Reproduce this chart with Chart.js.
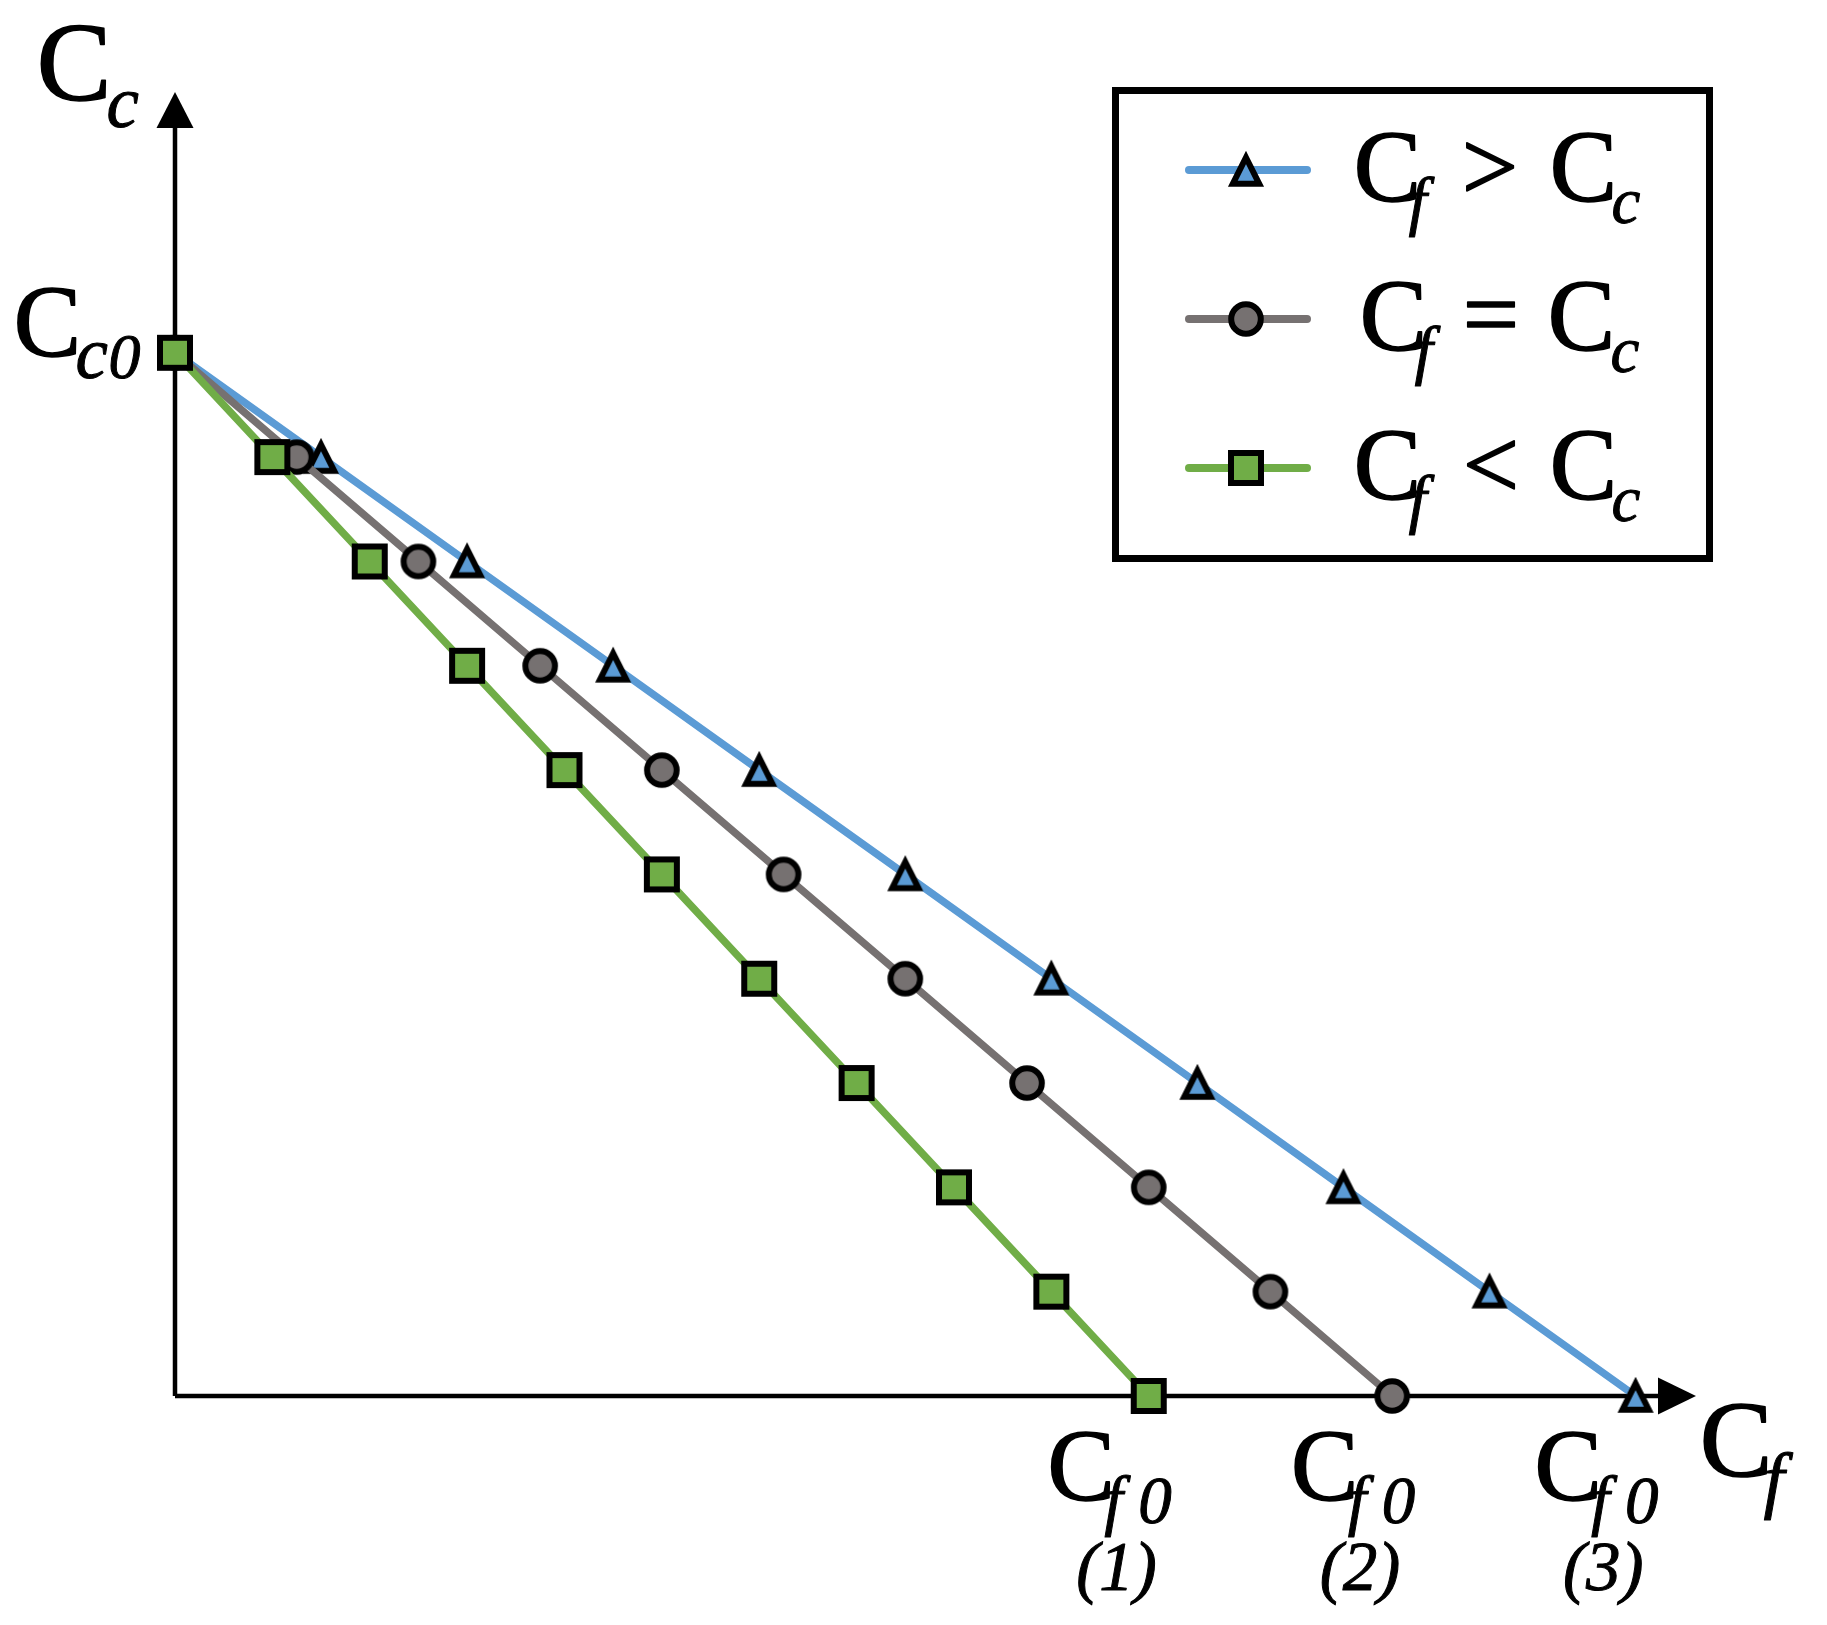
<!DOCTYPE html>
<html>
<head>
<meta charset="utf-8">
<script src="https://cdn.jsdelivr.net/npm/chart.js@4.4.1/dist/chart.umd.min.js"></script>
<style>
  html, body { margin: 0; padding: 0; background: #fff; }
  #wrap { width: 1827px; height: 1625px; }
</style>
</head>
<body>
<div id="wrap"><canvas id="concChart" width="1827" height="1625"></canvas></div>
<script>
// Cc falls from Cc0 to 0 while Cf climbs to its end value Cf0
const ccValues = [10, 9, 8, 7, 6, 5, 4, 3, 2, 1, 0];
const cfLess = [0, 1, 2, 3, 4, 5, 6, 7, 8, 9, 10];                        // Cf < Cc
const cfEqual = [0, 1.25, 2.5, 3.75, 5, 6.25, 7.5, 8.75, 10, 11.25, 12.5]; // Cf = Cc
const cfGreater = [0, 1.5, 3, 4.5, 6, 7.5, 9, 10.5, 12, 13.5, 15];        // Cf > Cc
const legendOps = ['>', '=', '<'];
const endTags = ['(1)', '(2)', '(3)'];
const xMax = 15.6;
const yMax = 12.5;

const SERIF = '"Liberation Serif", "Times New Roman", serif';
const BLUE = '#5B9BD5';
const GRAY = '#767171';
const GREEN = '#70AD47';

function toPoints(xs) {
    return xs.map((x, i) => ({ x: x, y: ccValues[i] }));
}

// marker images, so chart and legend use the very same symbol
function makeMarker(shape, fill) {
    const c = document.createElement('canvas');
    c.width = 48;
    c.height = 48;
    const g = c.getContext('2d');
    g.translate(24, 24);
    g.lineWidth = 6;
    g.strokeStyle = '#000';
    g.fillStyle = fill;
    g.lineJoin = 'miter';
    g.beginPath();
    if (shape === 'circle') {
        g.arc(0, 0, 14.8, 0, Math.PI * 2);
    } else if (shape === 'rect') {
        g.rect(-15, -15, 30, 30);
    } else {
        g.moveTo(0, -12.5);
        g.lineTo(13.2, 13.8);
        g.lineTo(-13.2, 13.8);
        g.closePath();
    }
    g.fill();
    g.stroke();
    return c;
}

const triMarker = makeMarker('triangle', BLUE);
const dotMarker = makeMarker('circle', GRAY);
const boxMarker = makeMarker('rect', GREEN);

// draw a glyph run with its ink box starting at (left, bottom);
// a thin outline gives the slightly heavier look of the original
function put(ctx, text, left, bottom, size, style) {
    const ink = style === 'italic' ? 1 : 1.6;
    ctx.font = style + ' ' + size + 'px ' + SERIF;
    const m = ctx.measureText(text);
    const x = left + m.actualBoundingBoxLeft + ink / 2;
    const y = bottom - m.actualBoundingBoxDescent - ink / 2;
    ctx.lineWidth = ink;
    ctx.lineJoin = 'round';
    ctx.strokeStyle = '#000';
    ctx.fillText(text, x, y);
    ctx.strokeText(text, x, y);
}

const axesPlugin = {
    id: 'arrowAxes',
    beforeDatasetsDraw(chart) {
        const ctx = chart.ctx;
        const x0 = chart.scales.x.getPixelForValue(0);
        const y0 = chart.scales.y.getPixelForValue(0);
        const top = chart.chartArea.top;
        const right = chart.chartArea.right;
        ctx.save();
        ctx.strokeStyle = '#000';
        ctx.fillStyle = '#000';
        ctx.lineWidth = 4.5;
        ctx.beginPath();
        ctx.moveTo(x0, y0);
        ctx.lineTo(x0, top + 36);
        ctx.moveTo(x0, y0);
        ctx.lineTo(right - 36, y0);
        ctx.stroke();
        // arrow heads
        ctx.beginPath();
        ctx.moveTo(x0, top);
        ctx.lineTo(x0 + 18.5, top + 36);
        ctx.lineTo(x0 - 18.5, top + 36);
        ctx.closePath();
        ctx.fill();
        ctx.beginPath();
        ctx.moveTo(right + 2, y0);
        ctx.lineTo(right - 36, y0 - 18.5);
        ctx.lineTo(right - 36, y0 + 18.5);
        ctx.closePath();
        ctx.fill();
        ctx.restore();
    },
    afterDraw(chart) {
        const ctx = chart.ctx;
        const xs = chart.scales.x;
        const ys = chart.scales.y;
        ctx.save();
        ctx.fillStyle = '#000';
        ctx.textAlign = 'left';
        ctx.textBaseline = 'alphabetic';

        // axis names
        put(ctx, 'C', 40, 102, 112, 'normal');
        put(ctx, 'c', 108, 128, 73, 'italic');
        put(ctx, 'C', 1703, 1478, 109, 'normal');
        put(ctx, 'f', 1763, 1520, 75, 'italic');

        // Cc0 at the start value
        const yStart = ys.getPixelForValue(ccValues[0]);
        put(ctx, 'C', 17, yStart + 5, 101, 'normal');
        put(ctx, 'c', 77, yStart + 27, 73, 'italic');
        put(ctx, '0', 110, yStart + 27, 64, 'italic');

        // Cf0 labels under each end point
        const ends = [cfLess, cfEqual, cfGreater];
        ends.forEach((arr, i) => {
            const px = xs.getPixelForValue(arr[arr.length - 1]);
            put(ctx, 'C', px - 98, 1502, 101, 'normal');
            put(ctx, 'f', px - 45, 1537, 67, 'italic');
            put(ctx, '0', px - 9, 1524, 67, 'italic');
            put(ctx, endTags[i], px - 71, 1605, 69, 'italic');
        });

        // legend frame
        ctx.strokeStyle = '#000';
        ctx.lineWidth = 7;
        ctx.lineJoin = 'miter';
        ctx.strokeRect(1115.5, 90.5, 594, 468);

        const rows = [
            { y: 170, color: BLUE, marker: triMarker },
            { y: 319, color: GRAY, marker: dotMarker },
            { y: 468, color: GREEN, marker: boxMarker }
        ];
        rows.forEach((r, i) => {
            ctx.strokeStyle = r.color;
            ctx.lineWidth = 8;
            ctx.lineCap = 'round';
            ctx.beginPath();
            ctx.moveTo(1189, r.y);
            ctx.lineTo(1307, r.y);
            ctx.stroke();
            ctx.lineCap = 'butt';
            ctx.drawImage(r.marker, 1246 - 24, r.y - 24);
            const base = r.y + 33;
            const dx = i === 1 ? 6 : 0;
            put(ctx, 'C', 1357 + dx, base, 101, 'normal');
            put(ctx, 'f', 1408 + dx, base + 34, 66, 'italic');
            if (legendOps[i] === '=') {
                put(ctx, '=', 1466, base - 24, 100, 'normal');
            } else {
                put(ctx, legendOps[i], 1466, base - 11, 100, 'normal');
            }
            put(ctx, 'C', 1553 - dx / 3, base, 101, 'normal');
            put(ctx, 'c', 1613 - dx / 6, base + 21, 65, 'italic');
        });
        ctx.restore();
    }
};

const ctx = document.getElementById('concChart').getContext('2d');
new Chart(ctx, {
    type: 'line',
    data: {
        datasets: [
            {
                label: 'Cf < Cc',
                data: toPoints(cfLess),
                borderColor: GREEN,
                borderWidth: 7.5,
                pointStyle: boxMarker,
                pointRadius: 18,
                clip: false
            },
            {
                label: 'Cf = Cc',
                data: toPoints(cfEqual),
                borderColor: GRAY,
                borderWidth: 7.5,
                pointStyle: dotMarker,
                pointRadius: 18,
                clip: false
            },
            {
                label: 'Cf > Cc',
                data: toPoints(cfGreater),
                borderColor: BLUE,
                borderWidth: 7.5,
                pointStyle: triMarker,
                pointRadius: 18,
                clip: false
            }
        ]
    },
    options: {
        responsive: false,
        animation: false,
        events: [],
        layout: {
            padding: { left: 175, right: 133, top: 92, bottom: 229 }
        },
        scales: {
            x: { type: 'linear', min: 0, max: xMax, display: false },
            y: { type: 'linear', min: 0, max: yMax, display: false }
        },
        plugins: {
            legend: { display: false },
            tooltip: { enabled: false }
        }
    },
    plugins: [axesPlugin]
});
</script>
</body>
</html>
